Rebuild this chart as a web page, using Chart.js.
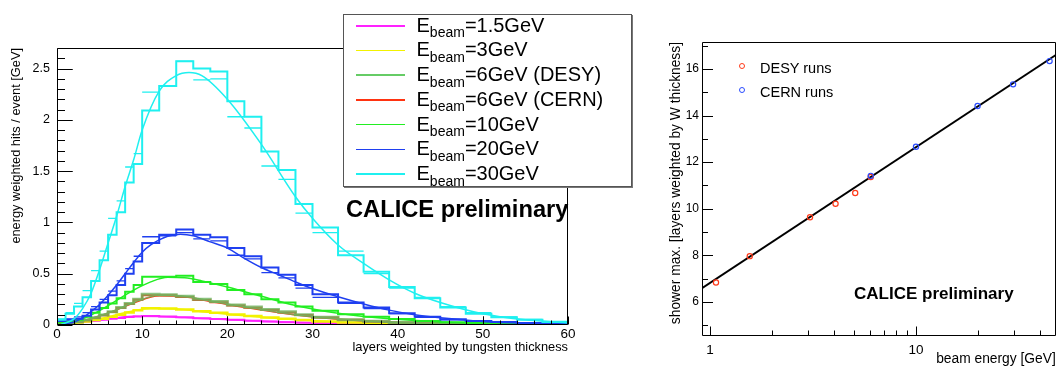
<!DOCTYPE html>
<html>
<head>
<meta charset="utf-8">
<style>
* { margin: 0; padding: 0; }
body {
  width: 1061px; height: 367px; overflow: hidden; background: #fff; position: relative;
  font-family: "Liberation Sans", Arial, sans-serif; color: #000;
}
canvas { position: absolute; top: 0; }
#leftChart { left: 0; }
#rightChart { left: 640px; }
.legendBox {
  position: absolute; left: 343px; top: 14px; width: 287px; height: 171px;
  border: 1px solid #555; box-shadow: 1px 1px 0 #777; background: #fff;
}
.txt { position: absolute; white-space: nowrap; line-height: 1; }
.sample { position: absolute; height: 1.5px; }
.mark { position: absolute; width: 6px; height: 6px; border-radius: 50%; box-sizing: border-box; border: 1.2px solid; }
</style>
</head>
<body>
<canvas id="leftChart" width="600" height="367"></canvas>
<canvas id="rightChart" width="421" height="367"></canvas>
<div id="overlay"></div>
<script src="https://cdn.jsdelivr.net/npm/chart.js"></script>
<script>
// ---- left: longitudinal profiles ----
const binEdges = [0,1,2,3,4,5,6,7,8,9,10,12,14,16,18,20,22,24,26,28,30,33,36,39,42,45,48,51,54,57,60];

const energyLabels = ['1.5GeV', '3GeV', '6GeV (DESY)', '6GeV (CERN)', '10GeV', '20GeV', '30GeV'];

const h15 = [0.012,0.018,0.025,0.033,0.042,0.05,0.06,0.068,0.077,0.084, 0.088,0.082,0.075,0.066,0.058,0.05,0.042,0.035,0.028,0.023, 0.016,0.011,0.008,0.005,0.004,0.003,0.002,0.001,0.001,0.001];
const h3 = [0.012,0.018,0.025,0.035,0.048,0.062,0.08,0.1,0.122,0.143, 0.163,0.16,0.15,0.133,0.12,0.102,0.088,0.073,0.06,0.048, 0.035,0.024,0.016,0.01,0.007,0.005,0.003,0.002,0.001,0.001];
const h6desy = [0.015,0.022,0.032,0.048,0.07,0.098,0.13,0.17,0.21,0.25, 0.30,0.295,0.28,0.25,0.23,0.195,0.175,0.15,0.128,0.10, 0.075,0.052,0.037,0.025,0.017,0.011,0.008,0.005,0.003,0.002];
const h6cern = [0.014,0.02,0.03,0.046,0.068,0.095,0.127,0.165,0.205,0.245, 0.29,0.29,0.272,0.243,0.222,0.19,0.168,0.145,0.122,0.097, 0.072,0.05,0.035,0.024,0.016,0.011,0.007,0.005,0.003,0.002];
const h10 = [0.025,0.035,0.05,0.08,0.12,0.165,0.21,0.26,0.325,0.39, 0.47,0.47,0.48,0.42,0.40,0.34,0.30,0.25,0.22,0.18, 0.14,0.105,0.08,0.058,0.04,0.028,0.02,0.014,0.01,0.007];
const h20 = [0.04,0.05,0.06,0.09,0.15,0.22,0.29,0.39,0.50,0.62, 0.80,0.88,0.93,0.88,0.855,0.75,0.67,0.56,0.49,0.39, 0.30,0.22,0.17,0.115,0.08,0.055,0.04,0.03,0.02,0.015];
const h30 = [0.05,0.11,0.18,0.27,0.43,0.63,0.88,1.10,1.39,1.57, 2.09,2.33,2.57,2.50,2.47,2.18,2.03,1.69,1.51,1.18, 0.95,0.68,0.52,0.37,0.26,0.17,0.11,0.075,0.05,0.03];

// data points (horizontal bars) for the two largest energies
const d20 = [0.05,0.06,0.08,0.12,0.18,0.25,0.33,0.43,0.55,0.67, 0.86,0.87,0.90,0.84,0.82,0.68,0.645,0.51,0.46,0.36, 0.27,0.21,0.16,0.11,0.075,0.05,0.035,0.025,0.018,0.012];
const d30 = [0.06,0.12,0.21,0.335,0.53,0.72,1.04,1.21,1.54,1.67, 2.27,2.33,2.57,2.39,2.40,2.03,1.92,1.55,1.42,1.09, 0.90,0.72,0.50,0.36,0.27,0.18,0.12,0.08,0.055,0.035];

// fitted curves
const fx15 = [1,3,5,7,9,12,15,18,21,25,30,36,45,60];
const fy15 = [0.008,0.025,0.048,0.07,0.085,0.083,0.072,0.06,0.048,0.035,0.022,0.012,0.005,0.001];
const fx3 = [1,3,5,7,9,11,14,17,20,24,28,33,39,50,60];
const fy3 = [0.01,0.03,0.06,0.1,0.14,0.16,0.155,0.13,0.105,0.075,0.05,0.03,0.015,0.004,0.001];
const fx6 = [1,3,5,7,9,12,15,18,21,24,28,33,39,45,60];
const fy6desy = [0.01,0.04,0.09,0.15,0.22,0.29,0.28,0.235,0.19,0.15,0.10,0.058,0.028,0.013,0.003];
const fy6cern = [0.01,0.04,0.088,0.147,0.215,0.285,0.275,0.23,0.186,0.147,0.098,0.056,0.027,0.012,0.003];
const fx10 = [1,3,5,7,9,11,13,15,17,20,24,28,33,39,45,50,60];
const fy10 = [0.01,0.06,0.14,0.24,0.34,0.42,0.465,0.46,0.43,0.37,0.28,0.19,0.115,0.06,0.03,0.018,0.006];
const fx20 = [1,2,3,4,5,6,7,8,9,10,11,12,13,14.5,16,18,20,22,24,26,28,30,33,36,39,42,45,50,55,60];
const fy20 = [0.01,0.03,0.07,0.13,0.2,0.29,0.39,0.50,0.61,0.71,0.78,0.83,0.865,0.885,0.87,0.81,0.75,0.65,0.56,0.49,0.42,0.355,0.275,0.205,0.145,0.10,0.07,0.035,0.018,0.01];
const fx30 = [0.5,1,2,3,4,5,6,7,8,9,10,12,14,15.5,17,20,24,28,30,33,36,39,42,45,50,55,60];
const fy30 = [0.01,0.02,0.06,0.16,0.31,0.54,0.80,1.06,1.35,1.61,1.90,2.28,2.43,2.46,2.43,2.20,1.76,1.25,1.04,0.78,0.60,0.44,0.31,0.22,0.11,0.05,0.02];

const leftXTicks = [0,10,20,30,40,50,60];
const leftYTicks = [0,0.5,1,1.5,2,2.5];

// ---- right: shower maximum vs beam energy ----
const desyE = [1.07,1.56,3.06,4.07,5.07,6.03];
const desyMax = [6.83,7.96,9.63,10.21,10.67,11.36];
const cernE = [6.03,10,19.9,29.6,44.5];
const cernMax = [11.41,12.66,14.41,15.34,16.34];
const fitE = [0.915,47.7];
const fitMax = [6.58,16.6];

const rightXTicks = [1,10];
const rightXMinor = [2,3,4,5,6,7,8,9,20,30,40];
const rightYTicks = [6,8,10,12,14,16];

const FONT = '"Liberation Sans", Arial, sans-serif';

const series = [
  {hist: h15, fx: fx15, fy: fy15, color: '#ff22ff', w: 2},
  {hist: h3, fx: fx3, fy: fy3, color: '#f2f200', w: 2.5},
  {hist: h6cern, fx: fx6, fy: fy6cern, color: '#ff3311', w: 2, legendIdx: 3},
  {hist: h6desy, fx: fx6, fy: fy6desy, color: 'rgba(110,180,95,0.8)', w: 3, legendIdx: 2, legendColor: '#66cc66'},
  {hist: h10, fx: fx10, fy: fy10, color: '#22ee22', w: 2},
  {hist: h20, fx: fx20, fy: fy20, color: '#1f3ff0', w: 2, data: d20},
  {hist: h30, fx: fx30, fy: fy30, color: '#1ff0f0', w: 2, data: d30}
];

function stepPoints(vals) {
  const pts = vals.map((v, i) => ({x: binEdges[i], y: v}));
  pts.push({x: binEdges[vals.length], y: vals[vals.length - 1]});
  return pts;
}
function barPoints(vals) {
  const pts = [];
  vals.forEach((v, i) => {
    pts.push({x: binEdges[i], y: v}, {x: binEdges[i + 1], y: v}, {x: binEdges[i + 1], y: null});
  });
  return pts;
}

const leftSets = [];
series.forEach((s, k) => {
  const order = 100 - k * 10;
  leftSets.push({data: stepPoints(s.hist), borderColor: s.color, borderWidth: s.w, stepped: true, order: order});
  if (s.data) leftSets.push({data: barPoints(s.data), borderColor: s.color, borderWidth: 1.3, spanGaps: false, order: order - 1});
  leftSets.push({data: s.fx.map((x, i) => ({x: x, y: s.fy[i]})), borderColor: s.color, borderWidth: 1.5,
    cubicInterpolationMode: 'monotone', order: order - 2});
});

function range(a, b, step) {
  const out = [];
  for (let v = a; v <= b + 1e-9; v += step) out.push(Math.round(v * 1000) / 1000);
  return out;
}

// inward ROOT style ticks, per canvas
const tickCfg = {
  leftChart: {
    xMajor: leftXTicks, xMinor: range(2, 58, 2), xLen: [8, 4],
    yMajor: leftYTicks, yMinor: range(0.1, 2.7, 0.1), yLen: [15, 7.5]
  },
  rightChart: {
    xMajor: rightXTicks, xMinor: rightXMinor, xLen: [9, 5],
    yMajor: rightYTicks, yMinor: range(5, 17, 1), yLen: [10.5, 5.5]
  }
};

const frameTicks = {
  id: 'frameTicks',
  afterDraw(chart) {
    const o = tickCfg[chart.canvas.id];
    const {ctx, chartArea: a} = chart;
    const xs = chart.scales.x, ys = chart.scales.y;
    const L = Math.round(a.left) + 0.5, R = Math.round(a.right) - 0.5;
    const T = Math.round(a.top) + 0.5, B = Math.round(a.bottom) - 0.5;
    ctx.save();
    ctx.lineWidth = 1;
    ctx.strokeStyle = '#000';
    ctx.beginPath();
    ctx.rect(L, T, R - L, B - T);
    ctx.stroke();
    // tick marks
    ctx.beginPath();
    o.xMajor.concat(o.xMinor).forEach(v => {
      const p = Math.round(xs.getPixelForValue(v)) + 0.5;
      const len = o.xMajor.indexOf(v) >= 0 ? o.xLen[0] : o.xLen[1];
      ctx.moveTo(p, B);
      ctx.lineTo(p, B - len);
    });
    o.yMajor.concat(o.yMinor).forEach(v => {
      const p = Math.round(ys.getPixelForValue(v)) + 0.5;
      const len = o.yMajor.indexOf(v) >= 0 ? o.yLen[0] : o.yLen[1];
      ctx.moveTo(L, p);
      ctx.lineTo(L + len, p);
    });
    ctx.stroke();
    ctx.restore();
  }
};

new Chart(document.getElementById('leftChart'), {
  type: 'line',
  data: {datasets: leftSets},
  options: {
    responsive: false,
    animation: false,
    layout: {padding: {top: 48, right: 32, left: 0, bottom: 0}},
    elements: {point: {radius: 0}, line: {tension: 0}},
    plugins: {legend: {display: false}, tooltip: {enabled: false}},
    scales: {
      x: {
        type: 'linear', min: 0, max: 60,
        grid: {display: false, drawTicks: false}, border: {display: false},
        afterBuildTicks: s => { s.ticks = leftXTicks.map(v => ({value: v})); },
        afterFit: s => { s.height = 42; },
        ticks: {padding: 1, maxRotation: 0, autoSkip: false, color: '#000', font: {size: 13.5, family: FONT},
          callback: v => String(v)},
        title: {display: true, text: 'layers weighted by tungsten thickness', align: 'end', color: '#000',
          font: {size: 12.8, family: FONT}, padding: {top: 0, bottom: 12}}
      },
      y: {
        type: 'linear', min: 0, max: 2.7,
        grid: {display: false, drawTicks: false}, border: {display: false},
        afterBuildTicks: s => { s.ticks = leftYTicks.map(v => ({value: v})); },
        afterFit: s => { s.width = 57; },
        ticks: {padding: 7, autoSkip: false, color: '#000', font: {size: 12.5, family: FONT},
          callback: v => String(v)},
        title: {display: true, text: 'energy weighted hits / event [GeV]', align: 'end', color: '#000',
          font: {size: 12.8, family: FONT}, padding: {top: 9, bottom: 0}}
      }
    }
  },
  plugins: [frameTicks]
});

new Chart(document.getElementById('rightChart'), {
  type: 'scatter',
  data: {
    datasets: [
      {type: 'line', data: fitE.map((e, i) => ({x: e, y: fitMax[i]})), borderColor: '#000', borderWidth: 2,
        pointRadius: 0, order: 3},
      {data: desyE.map((e, i) => ({x: e, y: desyMax[i]})), borderColor: '#ff3a1a', backgroundColor: 'rgba(0,0,0,0)',
        borderWidth: 1.2, pointRadius: 2.6, order: 2},
      {data: cernE.map((e, i) => ({x: e, y: cernMax[i]})), borderColor: '#2a4cff', backgroundColor: 'rgba(0,0,0,0)',
        borderWidth: 1.2, pointRadius: 2.6, order: 1}
    ]
  },
  options: {
    responsive: false,
    animation: false,
    layout: {padding: {top: 42, right: 4, left: 0, bottom: 0}},
    plugins: {legend: {display: false}, tooltip: {enabled: false}},
    scales: {
      x: {
        type: 'logarithmic', min: 0.915, max: 47.7,
        grid: {display: false, drawTicks: false}, border: {display: false},
        afterBuildTicks: s => { s.ticks = rightXTicks.map(v => ({value: v})); },
        afterFit: s => { s.height = 31; },
        ticks: {padding: 6, maxRotation: 0, autoSkip: false, color: '#000', font: {size: 13.5, family: FONT},
          callback: v => String(v)},
        title: {display: true, text: 'beam energy [GeV]', align: 'end', color: '#000',
          font: {size: 13.8, family: FONT}, padding: {top: 0, bottom: 0}}
      },
      y: {
        type: 'linear', min: 4.53, max: 17.16,
        grid: {display: false, drawTicks: false}, border: {display: false},
        afterBuildTicks: s => { s.ticks = rightYTicks.map(v => ({value: v})); },
        afterFit: s => { s.width = 62; },
        ticks: {padding: 3, autoSkip: false, color: '#000', font: {size: 12, family: FONT},
          callback: v => String(v)},
        title: {display: true, text: 'shower max. [layers weighted by W thickness]', align: 'end', color: '#000',
          font: {size: 13.8, family: FONT}, padding: {top: 27.5, bottom: 0}}
      }
    }
  },
  plugins: [frameTicks]
});

// ---- overlay texts / legends ----
const ov = document.getElementById('overlay');
function addText(html, left, baseline, size, bold) {
  const d = document.createElement('div');
  d.className = 'txt';
  d.style.left = left + 'px';
  d.style.top = (baseline - 0.8465 * size) + 'px';
  d.style.fontSize = size + 'px';
  if (bold) d.style.fontWeight = 'bold';
  d.innerHTML = html;
  ov.appendChild(d);
}
const box = document.createElement('div');
box.className = 'legendBox';
ov.appendChild(box);
series.forEach((s, k) => {
  const i = s.legendIdx !== undefined ? s.legendIdx : k;
  const line = document.createElement('div');
  line.className = 'sample';
  line.style.left = '356px';
  line.style.width = '49px';
  line.style.top = (25 + 24.7 * i) + 'px';
  line.style.background = s.legendColor || s.color;
  ov.appendChild(line);
  addText('E<span style="font-size:14px;position:relative;top:5.6px">beam</span>=' + energyLabels[i],
    416.5, 31.7 + 24.7 * i, 20, false);
});

addText('CALICE preliminary', 346, 218.3, 23.7, true);

const runs = [['DESY runs', '#ff3a1a', 73.3], ['CERN runs', '#2a4cff', 97.7]];
runs.forEach(r => {
  const m = document.createElement('div');
  m.className = 'mark';
  m.style.left = '739px';
  m.style.top = (r[2] - 10.6) + 'px';
  m.style.borderColor = r[1];
  ov.appendChild(m);
  addText(r[0], 760, r[2], 14.5, false);
});
addText('CALICE preliminary', 854, 299.3, 17, true);
</script>
</body>
</html>
